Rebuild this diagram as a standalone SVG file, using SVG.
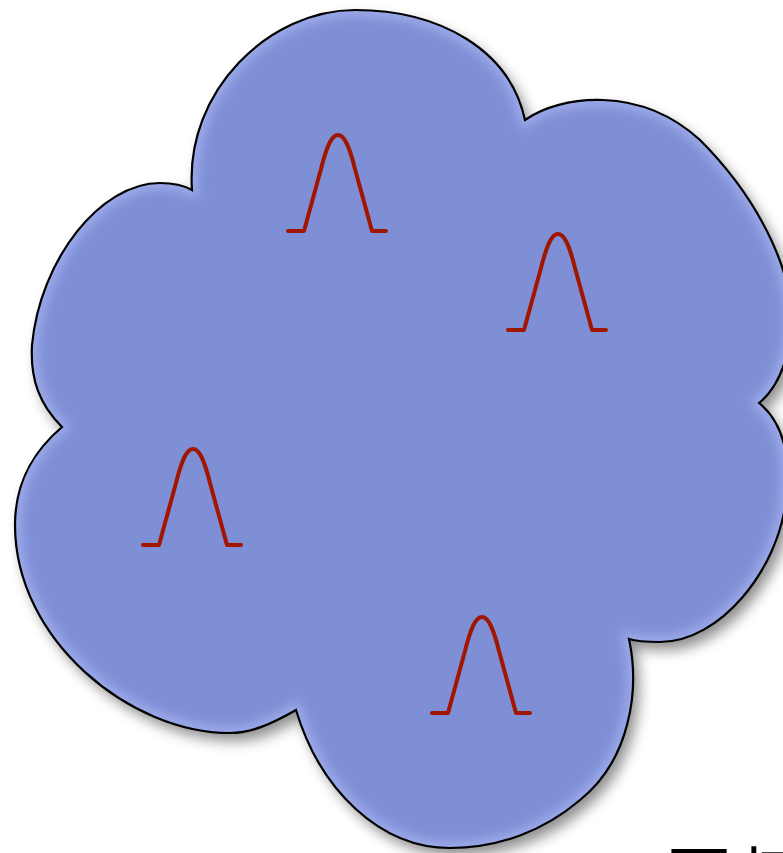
<svg xmlns="http://www.w3.org/2000/svg" width="783" height="853" viewBox="0 0 783 853">
<style>
.cloud{fill:#7f8fd6;stroke:#000;stroke-width:2.2}
.bump{fill:none;stroke:#a11600;stroke-width:4;stroke-linejoin:round;stroke-linecap:round}
.lbl{font-family:"Noto Sans CJK SC","Noto Sans",sans-serif;font-size:66px;fill:#000}
</style>
<defs>
<path id="cloudPath" d="M192,190 C185,90 270,10 355,10 C440,10 510,50 525,120 C560,95 640,85 700,140 C760,200 800,280 790,340 C785,370 775,390 759,403 C780,420 792,450 786,500 C778,570 720,642 660,642 C645,642 635,641 629,639 C640,690 630,760 580,800 C545,830 500,848 450,848 C380,848 320,790 296,710 C270,725 250,733 230,733 C130,733 15,640 15,525 C15,480 35,450 62,427 C40,405 30,380 32,345 C40,260 100,183 160,183 C175,183 185,186 192,190 Z"/>
<filter id="shadow" x="-10%" y="-10%" width="130%" height="130%">
<feGaussianBlur in="SourceAlpha" stdDeviation="7"/>
<feOffset dx="6" dy="8" result="b"/>
<feComponentTransfer><feFuncA type="linear" slope="0.45"/></feComponentTransfer>
</filter>
<filter id="glow" x="-10%" y="-10%" width="120%" height="120%">
<feGaussianBlur stdDeviation="6"/>
</filter>
<clipPath id="cclip"><use href="#cloudPath"/></clipPath>
<path id="g" d="M-50,96 H-34 L-17,34 C-11,10 -6,0 0,0 C6,0 11,10 17,34 L34,96 H48"/>
</defs>
<g id="cloud">
<use href="#cloudPath" fill="#000" filter="url(#shadow)"/>
<use href="#cloudPath" fill="#7f8fd6"/>
<g clip-path="url(#cclip)"><use href="#cloudPath" fill="none" stroke="#a6b3f0" stroke-width="10" filter="url(#glow)"/></g>
<use href="#cloudPath" fill="none" stroke="#000" stroke-width="2.2"/>
</g>
<g id="bump1"><use href="#g" class="bump" x="338" y="135"/></g>
<g id="bump2"><use href="#g" class="bump" x="558" y="234"/></g>
<g id="bump3"><use href="#g" class="bump" x="193" y="449"/></g>
<g id="bump4"><use href="#g" class="bump" x="482" y="617"/></g>
<g id="label"><text class="lbl" x="666" y="902">回归</text></g>
</svg>
